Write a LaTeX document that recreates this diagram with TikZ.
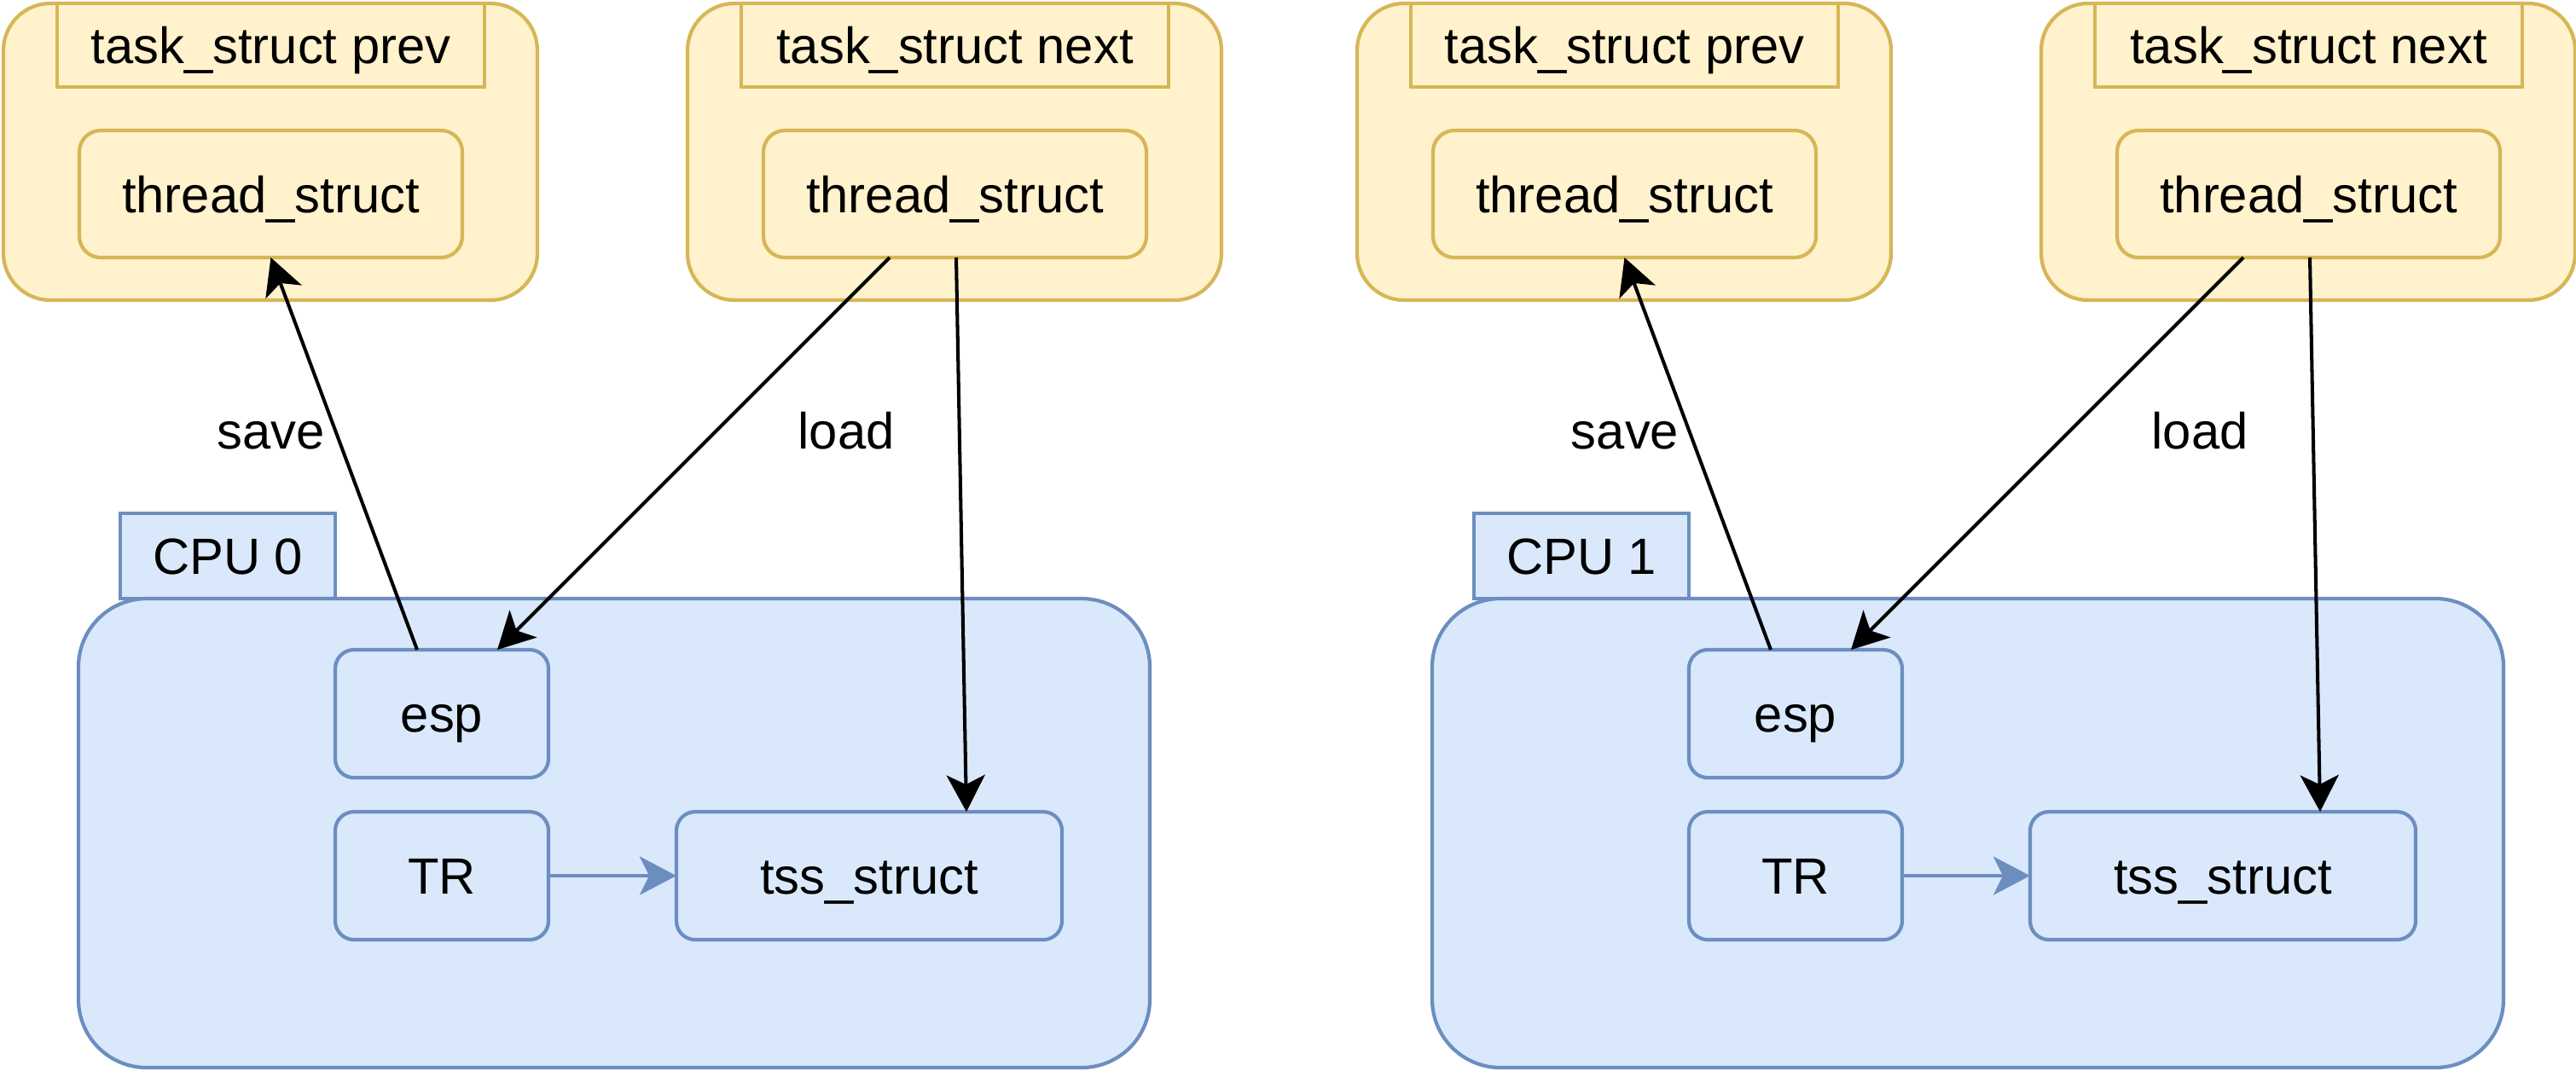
\documentclass[tikz,border=0pt]{standalone}
\usepackage{fontspec}
\setmainfont{Liberation Sans}
\usetikzlibrary{arrows.meta,calc}
\definecolor{yfill}{HTML}{FFF2CC}
\definecolor{ydraw}{HTML}{D6B656}
\definecolor{bfill}{HTML}{DAE8FC}
\definecolor{bdraw}{HTML}{6C8EBF}
\tikzset{
  base/.style={inner sep=0pt, outer sep=0pt, line width=1.2pt, font=\fontsize{17}{20}\selectfont, align=center, text height=0.43cm, text depth=0pt},
  taskbox/.style={base, draw=ydraw, fill=yfill, rounded corners=0.55cm, minimum width=6.26cm, minimum height=3.48cm},
  taskhead/.style={base, draw=ydraw, fill=yfill, minimum width=5.01cm, minimum height=0.98cm},
  threadbox/.style={base, draw=ydraw, fill=yfill, rounded corners=0.25cm, minimum width=4.49cm, minimum height=1.49cm},
  cpubody/.style={base, draw=bdraw, fill=bfill, rounded corners=0.8cm, minimum width=12.56cm, minimum height=5.50cm},
  cputab/.style={base, draw=bdraw, fill=bfill, minimum width=2.52cm, minimum height=1.00cm},
  regbox/.style={base, draw=bdraw, fill=bfill, rounded corners=0.22cm, minimum width=2.50cm, minimum height=1.50cm},
  tssbox/.style={base, draw=bdraw, fill=bfill, rounded corners=0.22cm, minimum width=4.52cm, minimum height=1.50cm},
  lbl/.style={base},
  blk/.style={line width=1.15pt, draw=black, -{Stealth[length=0.43cm, width=0.45cm, inset=0.11cm]}},
  blu/.style={line width=1.15pt, draw=bdraw, -{Stealth[length=0.43cm, width=0.45cm, inset=0.11cm, fill=bdraw]}},
}
\begin{document}
\begin{tikzpicture}
\useasboundingbox (0,0) rectangle (30.2,-12.55);
\foreach \i/\dx/\c in {a/0/0, b/15.87/1}{
  \begin{scope}[xshift=\dx cm]
    % task structs
    \node[taskbox] (prevout\i) at (3.17,-1.78) {};
    \node[taskhead] (prevhead\i) at (3.175,-0.53) {task\_struct prev};
    \node[threadbox] (previn\i) at (3.175,-2.275) {thread\_struct};
    \node[taskbox] (nextout\i) at (11.19,-1.78) {};
    \node[taskhead] (nexthead\i) at (11.195,-0.53) {task\_struct next};
    \node[threadbox] (nextin\i) at (11.195,-2.275) {thread\_struct};
    % CPU
    \node[cputab] (tab\i) at (2.67,-6.52) {CPU \c};
    \node[cpubody] (body\i) at (7.20,-9.77) {};
    \node[regbox] (esp\i) at (5.18,-8.37) {esp};
    \node[regbox] (tr\i) at (5.18,-10.27) {TR};
    \node[tssbox] (tss\i) at (10.19,-10.27) {tss\_struct};
    % labels
    \node[lbl] (save\i) at (3.18,-5.05) {save};
    \node[lbl] (load\i) at (9.92,-5.05) {load};
    % connectors
    \draw[blk] ([xshift=-0.29cm]esp\i.north) -- (previn\i.south);
    \draw[blk] ([xshift=-0.765cm]nextin\i.south) -- ([xshift=0.65cm]esp\i.north);
    \draw[blk] ([xshift=0.015cm]nextin\i.south) -- ([xshift=1.14cm]tss\i.north);
    \draw[blu] (tr\i.east) -- (tss\i.west);
  \end{scope}
}
\end{tikzpicture}
\end{document}
